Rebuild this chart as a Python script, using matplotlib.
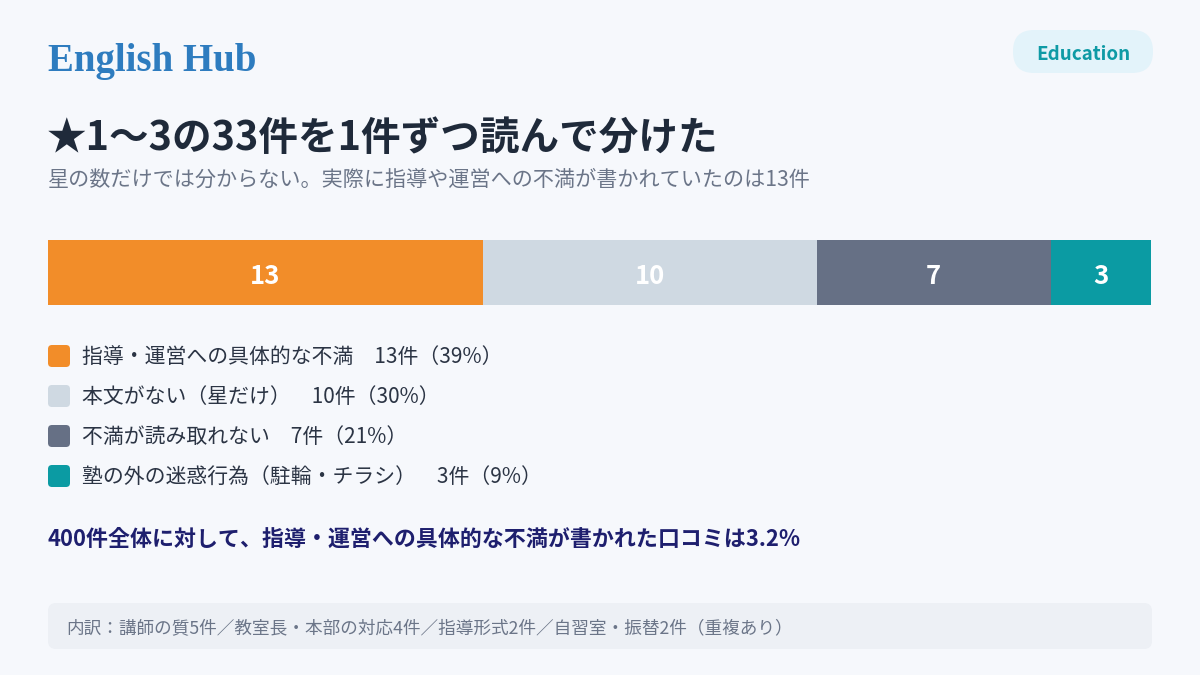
import numpy as np
import matplotlib
matplotlib.use("Agg")
import matplotlib.pyplot as plt
from matplotlib.patches import FancyBboxPatch

plt.rcParams['font.family'] = ['Noto Sans CJK JP', 'DejaVu Sans']

# data
categories = ['指導・運営への具体的な不満', '本文がない（星だけ）', '不満が読み取れない', '塾の外の迷惑行為（駐輪・チラシ）']
counts = [13, 10, 7, 3]
colors = ['#F28D29', '#CFD9E2', '#667085', '#0B9BA3']
label_colors = ['white', 'white', 'white', 'white']
total_reviews = 400

title = '★1〜3の33件を1件ずつ読んで分けた'
subtitle = '星の数だけでは分からない。実際に指導や運営への不満が書かれていたのは13件'
breakdown = '内訳：講師の質5件／教室長・本部の対応4件／指導形式2件／自習室・振替2件（重複あり）'

BG = '#F6F8FC'
W, H = 1200, 675

fig = plt.figure(figsize=(12, 6.75), dpi=100, facecolor=BG)

# overlay axes in pixel coordinates for text and decorations
ov = fig.add_axes([0, 0, 1, 1])
ov.set_xlim(0, W)
ov.set_ylim(H, 0)
ov.axis('off')

ov.text(48, 62, 'English Hub', fontsize=28, fontweight='bold', color='#2E7CBF',
        family='Liberation Serif', va='center', ha='left')

pill = FancyBboxPatch((1013, 30), 140, 43, boxstyle='round,pad=0,rounding_size=21',
                      fc='#E3F3FA', ec='none')
ov.add_patch(pill)
ov.text(1083, 54, 'Education', fontsize=13.5, fontweight='bold', color='#0E9AA5',
        va='center', ha='center')

ov.text(46, 139, title, fontsize=28.5, fontweight='bold', color='#1F2A3A',
        va='center', ha='left')
ov.text(48, 180, subtitle, fontsize=15.2, color='#6B7588', va='center', ha='left')

# stacked bar
total = sum(counts)
bar_ax = fig.add_axes([48 / W, 1 - 305 / H, 1103 / W, 65 / H])
lefts = np.concatenate([[0], np.cumsum(counts)[:-1]])
bar_ax.barh(0, counts, left=lefts, height=1.0, color=colors, edgecolor='none')
for l, c, tc in zip(lefts, counts, label_colors):
    bar_ax.text(l + c / 2, -0.06, str(c), color=tc, fontsize=18.5, fontweight='bold',
                ha='center', va='center')
bar_ax.set_xlim(0, total)
bar_ax.set_ylim(-0.5, 0.5)
bar_ax.axis('off')

# legend
for i, (cat, c, col) in enumerate(zip(categories, counts, colors)):
    y = 356 + i * 40
    sq = FancyBboxPatch((48, y - 11), 22, 22, boxstyle='round,pad=0,rounding_size=4',
                        fc=col, ec='none')
    ov.add_patch(sq)
    pct = round(c / total * 100)
    ov.text(82, y + 1, f'{cat}　{c}件（{pct}%）', fontsize=15, color='#2B3444',
            va='center', ha='left')

share = counts[0] / total_reviews * 100
ov.text(48, 539, f'{total_reviews}件全体に対して、指導・運営への具体的な不満が書かれた口コミは{share:.1f}%',
        fontsize=15.8, fontweight='bold', color='#1E1F6E', va='center', ha='left')

box = FancyBboxPatch((48, 603), 1104, 46, boxstyle='round,pad=0,rounding_size=8',
                     fc='#EDF0F5', ec='none')
ov.add_patch(box)
ov.text(66, 628, breakdown, fontsize=12.7, color='#6B7588', va='center', ha='left')

fig.savefig('out.png', dpi=100, facecolor=BG)
